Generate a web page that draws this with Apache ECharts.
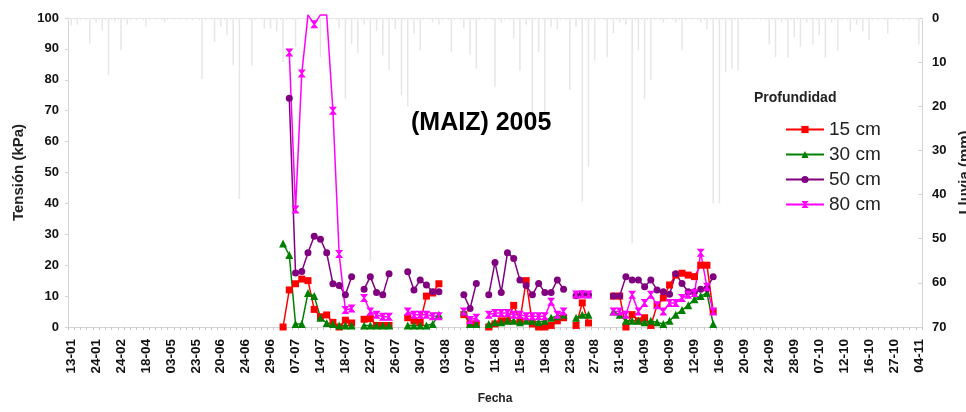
<!DOCTYPE html>
<html>
<head>
<meta charset="utf-8">
<script src="https://cdn.jsdelivr.net/npm/echarts@6/dist/echarts.min.js"></script>
<style>
html, body { margin: 0; padding: 0; background: #fff; }
#chart { width: 966px; height: 412px; }
</style>
</head>
<body>
<div id="chart"></div>
<script>
// fechas del eje (una categoria por lectura / registro de lluvia)
var fechas = [
	"13-01","15-01","18-01","21-01","24-01","28-01","03-02","12-02","24-02","04-03",
	"16-03","02-04","18-04","22-04","26-04","29-04","03-05","08-05","13-05","18-05",
	"23-05","30-05","06-06","14-06","20-06","21-06","22-06","23-06","24-06","25-06",
	"27-06","28-06","29-06","01-07","03-07","05-07","07-07","09-07","11-07","12-07",
	"14-07","15-07","16-07","17-07","18-07","19-07","20-07","21-07","22-07","23-07",
	"24-07","25-07","26-07","27-07","28-07","29-07","30-07","31-07","01-08","02-08",
	"03-08","04-08","05-08","06-08","07-08","08-08","09-08","10-08","11-08","12-08",
	"13-08","14-08","15-08","16-08","17-08","18-08","19-08","20-08","21-08","22-08",
	"23-08","24-08","25-08","26-08","27-08","28-08","29-08","30-08","31-08","01-09",
	"02-09","03-09","04-09","05-09","06-09","07-09","08-09","09-09","10-09","11-09",
	"12-09","13-09","14-09","15-09","16-09","17-09","18-09","19-09","20-09","21-09",
	"22-09","23-09","24-09","25-09","26-09","27-09","28-09","30-09","02-10","05-10",
	"07-10","08-10","09-10","11-10","12-10","13-10","14-10","15-10","16-10","19-10",
	"22-10","25-10","27-10","29-10","31-10","02-11","04-11"
];

// lluvia (mm), una por fecha
var lluvia = [
	1.7,1.5,0,5.8,1,2.8,13,0.8,7.3,1.5,
	0,0,2,0,0,1,0,0,0,0,
	0,13.8,0,5.4,2,3.9,10.7,41,0,10.7,
	0,2.4,2.4,3,10,0,6.6,0,0,0,
	8.9,0,0,2.4,18.3,5.8,8,1.5,55,3,
	8.5,11.8,2.5,17.5,20,3.5,7.3,0,1,1.5,
	0,7.7,0,2.3,8.3,11.5,0,0,15.6,1,
	0,4.5,11.9,1.5,24,7.7,22,2,2.5,0,
	16.3,2,41.6,33.7,9.6,0,8.9,3.4,1,1.5,
	51,7.3,18.3,14,0,1,0,1,7.3,0,
	0,1,2.5,42,42,12.2,11.5,11.8,0,0,
	0,0,6,8.9,1,9,4.3,6.5,1,6,
	3.9,9,1,7.4,0,3,1.5,3,5,0,
	0,3.5,0,0,0,0,6
];

// tension (kPa) desde la primera lectura (03-07) hasta la ultima (15-09)
var primeraLectura = "03-07";
var t15 = [
	0,12,14,15.5,15,5.7,3.3,3.9,1.5,0,
	2.2,1.3,null,2.5,2.7,0.5,0.5,0.5,null,null,
	3,2,1.5,10,11,14,null,null,null,4,
	1,1,null,0,1,2,2,7,2,15,
	1,0,0,0.5,2,3,null,0.5,7.8,1.3,
	null,null,null,10,10,0,4,2,3,0.5,
	7,9.4,13.6,16.8,17.4,16.8,16.3,20,20,5
];
var t30 = [
	27,23.3,1,1,11,10,3,1.3,1,0.5,
	0.5,0.5,null,0.5,0.5,0.5,0.5,0.5,null,null,
	0.5,0.5,0.5,0.5,1,4,null,null,null,5,
	1,1,null,1,1.5,1.5,2,2,1.5,2,
	2,1.5,2,3,3.5,4,null,3,4,4,
	null,null,null,5,4,2,2,2,1.5,2,
	1.5,1,2,4,5.5,7,9,10,11,1
];
var t50 = [
	null,74,17.5,18,24,29.4,28.4,24,14,13.4,
	10.4,16.3,null,12.2,16.3,11.2,10.4,17.2,null,null,
	17.9,12,15.2,13.6,11.4,11.4,null,null,null,10.4,
	6,14.1,null,10.4,20.9,11.2,24,22.2,15.2,13.4,
	10.4,14.1,11.2,11.2,15.2,12.2,null,10.1,10.8,10.4,
	null,null,null,10,10,16.3,15.2,15.2,13,15.2,
	12,11.4,10.6,17.2,14.1,11.4,11.4,12.2,12.5,16.3
];
var t80 = [
	null,88.8,38,82,101,98,101,101,70,23.6,
	5.5,6,null,9.4,5,4,3.3,3.3,null,null,
	5,4,4,4,3.5,3.5,null,null,null,5,
	2.3,3,null,4,4.5,4.5,4.5,4,4,3.5,
	3.5,3.5,3.5,8.2,4,5,null,10.5,10.5,10.5,
	null,null,null,5,5,4,10.4,5,7.8,10.4,
	7,5,7.8,7.8,9.4,10.4,11,24,13,5
];

var fuente = "Liberation Sans";
var gris = "#d4d4d4";

function aFechas(valores) {
	var inicio = fechas.indexOf(primeraLectura);
	return fechas.map(function(f, i) {
		var v = valores[i - inicio];
		if (v === undefined || v === null) {
			return null;
		}
		// fuera de escala: Excel no pinta el marcador
		if (v > 100) {
			return { value: v, symbol: "none" };
		}
		return v;
	});
}

function serie(nombre, valores, color, simbolo, tam) {
	return {
		name: nombre,
		type: "line",
		data: aFechas(valores),
		connectNulls: false,
		clip: false,
		symbol: simbolo,
		symbolSize: tam,
		showAllSymbol: true,
		z: 5,
		lineStyle: { color: color, width: 1.5 },
		itemStyle: { color: color },
		emphasis: { disabled: true }
	};
}

var chart = echarts.init(document.getElementById("chart"));
var option = {
	animation: false,
	backgroundColor: "#fff",
	title: [{
		text: "(MAIZ) 2005",
		left: 406,
		top: 106,
		textStyle: { fontFamily: fuente, fontSize: 25, fontWeight: "bold", color: "#000" }
	}, {
		text: "Profundidad",
		left: 749,
		top: 86,
		textStyle: { fontFamily: fuente, fontSize: 14, fontWeight: "bold", color: "#222" }
	}],
	legend: {
		orient: "vertical",
		left: 780,
		top: 115,
		itemWidth: 38,
		itemHeight: 9,
		itemGap: 6,
		itemStyle: { borderWidth: 0 },
		textStyle: { fontFamily: fuente, fontSize: 19, color: "#222" },
		data: ["15 cm", "30 cm", "50 cm", "80 cm"]
	},
	grid: { left: 68, right: 44, top: 18, bottom: 85, outerBoundsMode: "none" },
	xAxis: [{
		type: "category",
		data: fechas,
		boundaryGap: true,
		name: "Fecha",
		nameLocation: "middle",
		nameGap: 66,
		nameTextStyle: { fontFamily: fuente, fontSize: 12, fontWeight: "bold", color: "#222" },
		axisLine: { lineStyle: { color: gris } },
		axisTick: { show: true, interval: 0, length: 3, lineStyle: { color: "#c8c8c8" } },
		axisLabel: {
			interval: 3,
			rotate: 90,
			margin: 12,
			fontFamily: fuente,
			fontSize: 13.5,
			fontWeight: "bold",
			color: "#111"
		},
		splitLine: { show: false }
	}, {
		type: "category",
		data: fechas,
		position: "top",
		boundaryGap: true,
		axisLine: { lineStyle: { color: "#e6e6e6" } },
		axisTick: { show: true, inside: true, interval: 0, length: 2, lineStyle: { color: "#e6e6e6" } },
		axisLabel: { show: false },
		splitLine: { show: false }
	}],
	yAxis: [{
		type: "value",
		min: 0,
		max: 100,
		interval: 10,
		name: "Tensión (kPa)",
		nameLocation: "middle",
		nameGap: 40,
		nameTextStyle: { fontFamily: fuente, fontSize: 15, fontWeight: "bold", color: "#222" },
		axisLine: { show: true, lineStyle: { color: gris } },
		axisTick: { show: true, length: 3, lineStyle: { color: gris } },
		axisLabel: { margin: 9, fontFamily: fuente, fontSize: 13, fontWeight: "bold", color: "#111" },
		splitLine: { show: false }
	}, {
		type: "value",
		min: 0,
		max: 70,
		interval: 10,
		inverse: true,
		position: "right",
		name: "Lluvia (mm)",
		nameLocation: "middle",
		nameGap: 31,
		nameTextStyle: { fontFamily: fuente, fontSize: 15, fontWeight: "bold", color: "#222" },
		axisLine: { show: true, lineStyle: { color: gris } },
		axisTick: { show: true, inside: true, length: 4, lineStyle: { color: gris } },
		axisLabel: { margin: 10, fontFamily: fuente, fontSize: 13, fontWeight: "bold", color: "#111" },
		splitLine: { show: false }
	}],
	series: [{
		name: "Lluvia",
		type: "bar",
		xAxisIndex: 1,
		yAxisIndex: 1,
		data: lluvia,
		barWidth: 1.5,
		z: 1,
		itemStyle: { color: "#e6e6e6" },
		emphasis: { disabled: true }
	},
		serie("15 cm", t15, "#ff0000", "rect", 7),
		serie("30 cm", t30, "#008000", "triangle", 8),
		serie("50 cm", t50, "#800080", "circle", 7),
		serie("80 cm", t80, "#ff00ff", "path://M0,0L10,0L6,5L10,10L0,10L4,5Z", 8)
	]
};
chart.setOption(option);
</script>
</body>
</html>
